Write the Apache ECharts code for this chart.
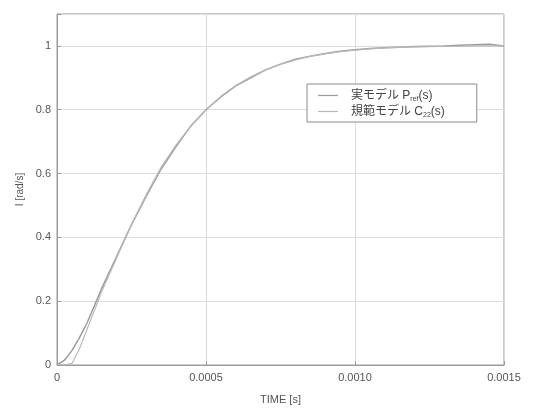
<!DOCTYPE html>
<html>
<head>
<meta charset="utf-8">
<script src="https://cdn.jsdelivr.net/npm/echarts@6/dist/echarts.min.js"></script>
<style>
  html, body { margin: 0; padding: 0; background: #fff; }
  #chart { width: 533px; height: 410px; }
</style>
</head>
<body>
<div id="chart"></div>
<script>
// Sample times [s]
const timeS = [0, 0.000025, 0.00005, 0.000075, 0.0001, 0.00015, 0.0002, 0.00025, 0.0003,
  0.00035, 0.0004, 0.00045, 0.0005, 0.00055, 0.0006, 0.00065, 0.0007, 0.00075, 0.0008,
  0.00085, 0.0009, 0.00095, 0.001, 0.00105, 0.0011, 0.00115, 0.0012, 0.00125, 0.0013,
  0.00135, 0.0014, 0.00145, 0.0015];

// Step response of the real plant P_ref(s)
const realModel = [0, 0.015, 0.045, 0.085, 0.13, 0.24, 0.34, 0.44, 0.53,
  0.615, 0.685, 0.75, 0.80, 0.84, 0.875, 0.90, 0.925, 0.943, 0.958,
  0.968, 0.976, 0.983, 0.988, 0.992, 0.994, 0.996, 0.998, 0.999, 1.0,
  1.002, 1.004, 1.005, 1.0];

// Step response of the reference model C_22(s)
const refModel = [0, 0, 0.005, 0.05, 0.11, 0.23, 0.335, 0.44, 0.535,
  0.62, 0.69, 0.75, 0.80, 0.842, 0.876, 0.903, 0.925, 0.942, 0.956,
  0.967, 0.975, 0.982, 0.987, 0.991, 0.994, 0.996, 0.997, 0.998, 0.999,
  0.999, 1.0, 1.0, 1.0];

const xTickValues = [0, 0.0005, 0.001, 0.0015];
const xTickLabels = ['0', '0.0005', '0.0010', '0.0015'];
const yTickLabels = ['0', '0.2', '0.4', '0.6', '0.8', '1'];

const seriesNames = ['real', 'ref'];
const legendText = {
  real: '実モデル P{sub|ref}(s)',
  ref: '規範モデル C{sub|22}(s)'
};

const FONT = '"Liberation Sans", "Noto Sans CJK JP", sans-serif';
const TEXT = '#555';
const AXIS = '#9a9a9a';

const chart = echarts.init(document.getElementById('chart'), null, { renderer: 'canvas' });

chart.setOption({
  animation: false,
  backgroundColor: '#fff',
  textStyle: { fontFamily: FONT },
  grid: {
    left: 57, right: 29, top: 14, bottom: 45,
    show: true, borderColor: AXIS, borderWidth: 1, backgroundColor: 'transparent'
  },
  legend: {
    orient: 'vertical',
    left: 307, top: 84,
    data: seriesNames,
    borderColor: '#8a8a8a', borderWidth: 1,
    backgroundColor: '#fff',
    padding: [4, 32, 3, 11],
    itemGap: 1,
    icon: 'rect',
    itemWidth: 20, itemHeight: 1.2,
    formatter: name => legendText[name],
    textStyle: {
      color: '#444', fontSize: 12, fontFamily: FONT, lineHeight: 15, padding: [0, 0, 0, 8],
      rich: {
        sub: { fontSize: 7, color: '#444', fontFamily: FONT, verticalAlign: 'bottom', lineHeight: 8, padding: [7, 0, 0, 0] }
      }
    }
  },
  xAxis: {
    type: 'value',
    min: 0, max: 0.0015, interval: 0.0005,
    name: 'TIME [s]', nameLocation: 'middle', nameGap: 29,
    nameTextStyle: { color: TEXT, fontSize: 11, fontFamily: FONT },
    axisLine: { show: true, onZero: false, lineStyle: { color: AXIS } },
    axisTick: { show: true, inside: true, length: 4, lineStyle: { color: AXIS } },
    axisLabel: {
      color: TEXT, fontSize: 11, margin: 7, fontFamily: FONT,
      formatter: v => {
        const i = xTickValues.findIndex(t => Math.abs(t - v) < 1e-9);
        return i >= 0 ? xTickLabels[i] : '';
      }
    },
    splitLine: { show: true, lineStyle: { color: '#dcdcdc', width: 1 } }
  },
  yAxis: {
    type: 'value',
    min: 0, max: 1.1, interval: 0.2,
    name: 'I [rad/s]', nameLocation: 'middle', nameGap: 27, nameRotate: 90,
    nameTextStyle: { color: TEXT, fontSize: 10, fontFamily: FONT },
    axisLine: { show: true, lineStyle: { color: AXIS } },
    axisTick: { show: true, inside: true, length: 4, lineStyle: { color: AXIS } },
    axisLabel: {
      color: TEXT, fontSize: 11, margin: 6, fontFamily: FONT,
      formatter: v => {
        const i = Math.round(v / 0.2);
        return (Math.abs(v - i * 0.2) < 1e-6 && i < yTickLabels.length) ? yTickLabels[i] : '';
      }
    },
    splitLine: { show: true, lineStyle: { color: '#dcdcdc', width: 1 } }
  },
  series: [
    {
      name: 'real', type: 'line', symbol: 'none', smooth: false,
      data: timeS.map((t, i) => [t, realModel[i]]),
      lineStyle: { color: '#9c9c9c', width: 1.5 },
      itemStyle: { color: '#9c9c9c' }
    },
    {
      name: 'ref', type: 'line', symbol: 'none', smooth: false,
      data: timeS.map((t, i) => [t, refModel[i]]),
      lineStyle: { color: '#b8b8b8', width: 1.2 },
      itemStyle: { color: '#b8b8b8' }
    }
  ]
});
</script>
</body>
</html>
